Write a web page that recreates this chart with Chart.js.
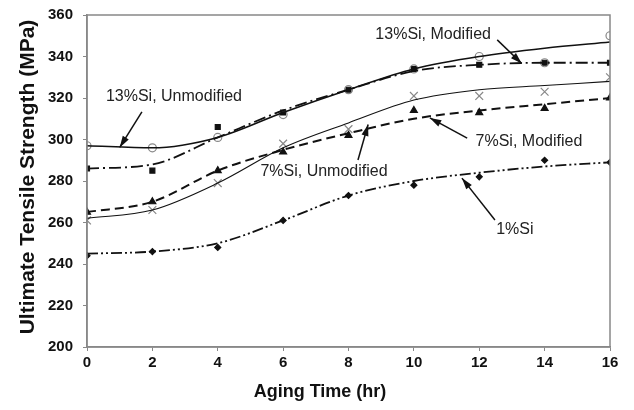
<!DOCTYPE html>
<html>
<head>
<meta charset="utf-8">
<script src="https://cdn.jsdelivr.net/npm/chart.js@4"></script>
<style>
  html, body { margin: 0; padding: 0; background: #fff; }
  #wrap { width: 634px; height: 410px; }
</style>
</head>
<body>
<div id="wrap"><canvas id="chart" width="634" height="410"></canvas></div>
<script>
// measured points
const hours = [0, 2, 4, 6, 8, 10, 12, 14, 16];
const si13Mod = [297, 296, 301, 312, 324, 334, 340, 337, 350];
const si13Unmod = [286, 285, 306, 313, 324, 334, 336, 337, 337];
const si7Unmod = [261, 266, 279, 298, 305, 321, 321, 323, 330];
const si7Mod = [265, 270, 285, 294, 302, 314, 313, 315, 320];
const si1 = [244, 246, 248, 261, 273, 278, 282, 290, 289];

// fitted curves
const fit13Mod = [297, 296, 301, 313, 324, 334, 340, 344, 347];
const fit13Unmod = [286, 288, 301, 314, 324, 333, 336, 337, 337];
const fit7Unmod = [262, 266, 279, 296, 308, 319, 324, 326, 328];
const fit7Mod = [265, 270, 285, 295, 303, 310, 314, 317, 320];
const fit1 = [245, 246, 250, 261, 273, 280, 284, 287, 289];

const xTicks = [0, 2, 4, 6, 8, 10, 12, 14, 16];
const yTicks = [200, 220, 240, 260, 280, 300, 320, 340, 360];
const xTitle = 'Aging Time (hr)';
const yTitle = 'Ultimate Tensile Strength (MPa)';

const labels = [
  { text: '13%Si, Unmodified', x: 2.66, y: 320.5, from: [1.68, 313.3], to: [1.0, 296.2] },
  { text: '13%Si, Modified', x: 10.59, y: 350.4, from: [12.55, 348.0], to: [13.3, 336.6] },
  { text: '7%Si, Unmodified', x: 7.25, y: 284.3, from: [8.29, 290.1], to: [8.6, 307.2] },
  { text: '7%Si, Modified', x: 13.52, y: 298.8, from: [11.63, 300.7], to: [10.49, 310.4] },
  { text: '1%Si', x: 13.09, y: 256.4, from: [12.48, 261.2], to: [11.47, 281.4] }
];

const pts = arr => hours.map((h, i) => ({ x: h, y: arr[i] }));

function fitLine(arr, dash, width) {
  return {
    type: 'line', data: pts(arr), borderColor: '#111', borderWidth: width,
    borderDash: dash, pointRadius: 0, cubicInterpolationMode: 'monotone', fill: false
  };
}

function marks(arr, style, radius, fillColor, lineColor) {
  return {
    type: 'scatter', data: pts(arr), pointStyle: style, pointRadius: radius,
    backgroundColor: fillColor, borderColor: lineColor, borderWidth: 1.2, showLine: false
  };
}

const FONT = '"Liberation Sans", Arial, sans-serif';

const frameAndNotes = {
  id: 'frameAndNotes',
  afterDraw(chart) {
    const ctx = chart.ctx;
    const a = chart.chartArea;
    const sx = chart.scales.x, sy = chart.scales.y;
    ctx.save();
    ctx.strokeStyle = '#888';
    ctx.lineWidth = 1.5;
    ctx.strokeRect(a.left, a.top, a.right - a.left, a.bottom - a.top);

    // axis titles
    ctx.fillStyle = '#111';
    ctx.textAlign = 'center';
    ctx.textBaseline = 'middle';
    ctx.font = 'bold 18px ' + FONT;
    ctx.fillText(xTitle, 320, 392);
    ctx.save();
    ctx.translate(28, (a.top + a.bottom) / 2 - 4);
    ctx.rotate(-Math.PI / 2);
    ctx.font = 'bold 21px ' + FONT;
    ctx.fillText(yTitle, 0, 0);
    ctx.restore();

    ctx.font = '16px ' + FONT;
    labels.forEach(l => {
      ctx.fillStyle = '#222';
      ctx.fillText(l.text, sx.getPixelForValue(l.x), sy.getPixelForValue(l.y));
      const x1 = sx.getPixelForValue(l.from[0]), y1 = sy.getPixelForValue(l.from[1]);
      const x2 = sx.getPixelForValue(l.to[0]), y2 = sy.getPixelForValue(l.to[1]);
      ctx.strokeStyle = '#111';
      ctx.lineWidth = 1.5;
      ctx.beginPath();
      ctx.moveTo(x1, y1);
      ctx.lineTo(x2, y2);
      ctx.stroke();
      const ang = Math.atan2(y2 - y1, x2 - x1);
      ctx.beginPath();
      ctx.moveTo(x2, y2);
      ctx.lineTo(x2 - 12 * Math.cos(ang - 0.3), y2 - 12 * Math.sin(ang - 0.3));
      ctx.lineTo(x2 - 12 * Math.cos(ang + 0.3), y2 - 12 * Math.sin(ang + 0.3));
      ctx.closePath();
      ctx.fillStyle = '#111';
      ctx.fill();
    });
    ctx.restore();
  }
};

const tickFont = { family: FONT, size: 15, weight: 'bold' };

new Chart(document.getElementById('chart'), {
  type: 'scatter',
  data: {
    datasets: [
      fitLine(fit13Mod, [], 1.6),
      fitLine(fit13Unmod, [12, 4, 2, 4], 1.8),
      fitLine(fit7Unmod, [], 1.1),
      fitLine(fit7Mod, [9, 5], 2),
      fitLine(fit1, [11, 3, 2, 3, 2, 3], 1.8),
      marks(si13Mod, 'circle', 4, 'rgba(255,255,255,0)', '#888'),
      marks(si13Unmod, 'rect', 3.5, '#111', '#111'),
      marks(si7Unmod, 'crossRot', 5.5, '#888', '#888'),
      marks(si7Mod, 'triangle', 4, '#111', '#111'),
      marks(si1, 'rectRot', 3, '#111', '#111')
    ]
  },
  options: {
    responsive: false,
    animation: false,
    layout: { padding: { top: 15, right: 24, left: 0, bottom: 0 } },
    plugins: { legend: { display: false }, tooltip: { enabled: false } },
    scales: {
      x: {
        type: 'linear', min: 0, max: 16,
        afterBuildTicks: s => { s.ticks = xTicks.map(v => ({ value: v })); },
        afterFit: s => { s.height = 63; s.paddingLeft = 0; s.paddingRight = 0; },
        ticks: { font: tickFont, color: '#111', padding: 3 },
        grid: { drawOnChartArea: false, drawTicks: true, tickLength: 4, color: '#888' },
        border: { display: true, color: '#888', width: 1.5 }
      },
      y: {
        type: 'linear', min: 200, max: 360,
        afterBuildTicks: s => { s.ticks = yTicks.map(v => ({ value: v })); },
        afterFit: s => { s.width = 87; s.paddingTop = 0; s.paddingBottom = 0; },
        ticks: { font: tickFont, color: '#111', padding: 10 },
        grid: { drawOnChartArea: false, drawTicks: true, tickLength: 4, color: '#888' },
        border: { display: true, color: '#888', width: 1.5 }
      }
    }
  },
  plugins: [frameAndNotes]
});
</script>
</body>
</html>
